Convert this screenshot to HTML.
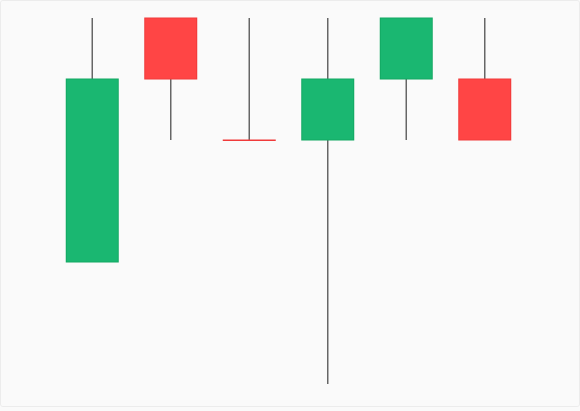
<!DOCTYPE html>
<html><head><meta charset="utf-8"><style>
html,body{margin:0;padding:0;background:#fafafa;}
#wrap{position:relative;width:578px;height:405px;border:1px solid #ececec;border-radius:3px;background:#fafafa;}
</style></head><body>
<div id="wrap">
<svg id="chart" width="578" height="405"></svg>
</div>
<script>
const categories = ["c1","c2","c3","c4","c5","c6"];
const opens  = [2, 6, 4, 4, 5, 5];
const closes = [5, 5, 4, 5, 6, 4];
const highs  = [6, 6, 6, 6, 6, 6];
const lows   = [2, 4, 4, 0, 4, 4];

const svgNS = "http://www.w3.org/2000/svg";
const svg = document.getElementById("chart");
const x0 = 52, bandW = 78.5, bodyW = 52;
function xc(i){ return x0 + (i + 0.5) * bandW; }
function y(v){ return 17 + (6 - v) * 61; }

categories.forEach((c, i) => {
  const up = closes[i] > opens[i];
  const g = document.createElementNS(svgNS, "g");
  
  
  const wick = document.createElementNS(svgNS, "line");
  
  
  wick.setAttribute("x1", xc(i)); wick.setAttribute("x2", xc(i));
  wick.setAttribute("y1", y(highs[i])); wick.setAttribute("y2", y(lows[i]));
  wick.setAttribute("stroke", "#666"); wick.setAttribute("stroke-width", "1.5");
  g.appendChild(wick);
  const top = y(Math.max(opens[i], closes[i])), bot = y(Math.min(opens[i], closes[i]));
  const body = document.createElementNS(svgNS, "rect");
  
  
  const col = up ? "#1ab771" : "#ff4545";
  const stroke = up ? "#12a862" : "#f03a3a";
  body.setAttribute("x", xc(i) - bodyW / 2);
  body.setAttribute("y", top);
  body.setAttribute("width", bodyW);
  body.setAttribute("height", Math.max(bot - top, 0.5));
  body.setAttribute("fill", col);
  body.setAttribute("stroke", stroke);
  body.setAttribute("stroke-width", "1");
  g.appendChild(body);
  svg.appendChild(g);
});
</script>
</body></html>
